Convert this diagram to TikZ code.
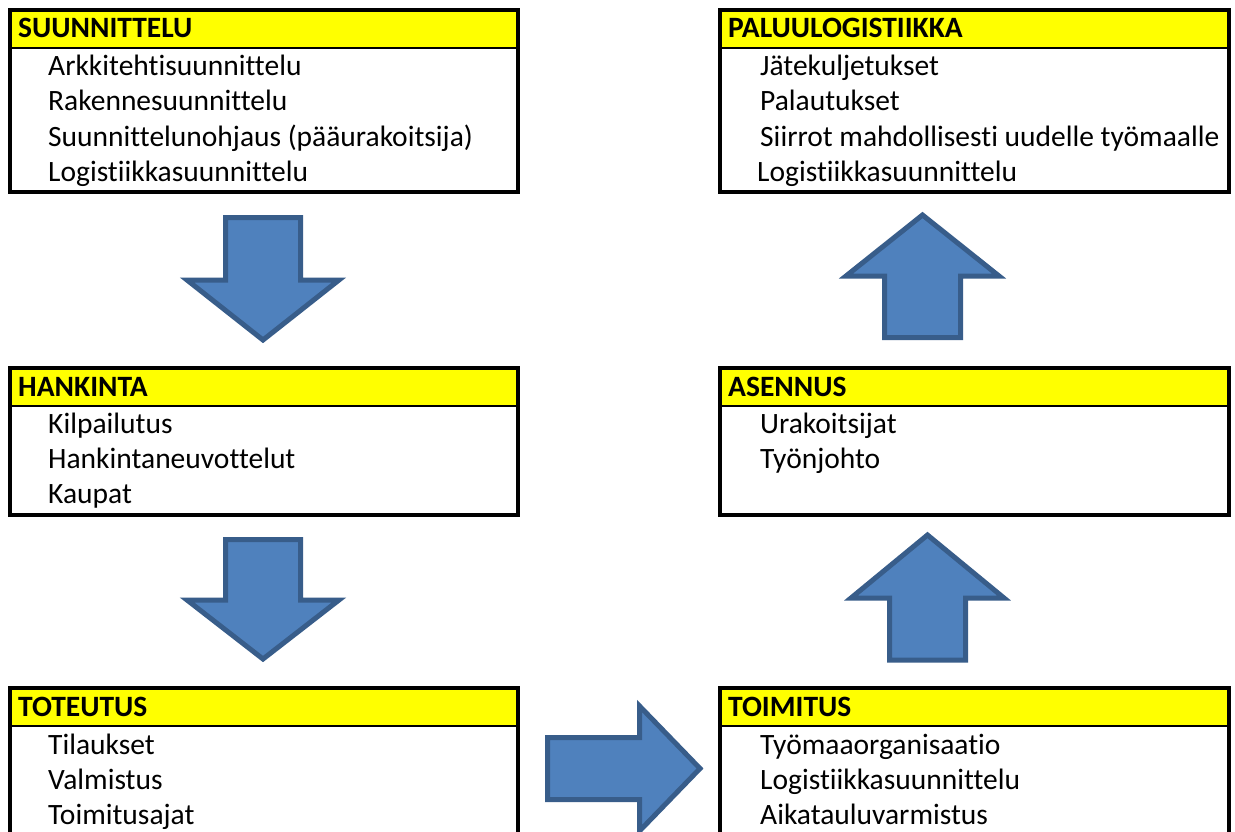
\documentclass[tikz,border=0pt]{standalone}
\usepackage{fontspec}
\setmainfont{Carlito}[Ligatures={NoCommon,NoContextual,NoRequired}]
\definecolor{arrowfill}{HTML}{4F81BD}
\definecolor{arrowline}{HTML}{385D8A}
\definecolor{headfill}{HTML}{FFFF00}
\tikzset{
  frame/.style={draw=black, line width=4pt, outer sep=0pt, inner sep=0pt},
  sepline/.style={draw=black, line width=2.5pt},
  headtext/.style={anchor=base west, inner sep=0pt, font=\fontsize{29.5}{35}\selectfont\bfseries},
  itemtext/.style={anchor=base west, inner sep=0pt, font=\fontsize{29.5}{35}\selectfont},
  blockarrow/.style={fill=arrowfill, draw=arrowline, line width=5pt, line join=miter},
}
\newcommand\stagebox[6]{%
  \fill[headfill] (#2,#3) rectangle ++(#4,38);
  \draw[sepline] (#2,#3+38) -- ++(#4,0);
  \node[frame, anchor=north west, minimum width=#4pt, minimum height=#5pt] (#1) at (#2,#3) {};
  \node[headtext] (#1-title) at (#2+8,#3+28) {#6};
}
\begin{document}
\begin{tikzpicture}[x=1pt,y=-1pt]
\useasboundingbox (0,0) rectangle (1235,832);
\clip (0,0) rectangle (1235,832);
\fill[white] (0,0) rectangle (1235,832);

% left column
\stagebox{suun}{10}{10}{508}{182}{SUUNNITTELU}
\node[itemtext] (suun-1) at (48,76) {Arkkitehtisuunnittelu};
\node[itemtext] (suun-2) at (48,111) {Rakennesuunnittelu};
\node[itemtext] (suun-3) at (48,146.5) {Suunnittelunohjaus (pääurakoitsija)};
\node[itemtext] (suun-4) at (48,182) {Logistiikkasuunnittelu};

\stagebox{hank}{10}{368}{508}{147}{HANKINTA}
\node[itemtext] (hank-1) at (48,433) {Kilpailutus};
\node[itemtext] (hank-2) at (48,468) {Hankintaneuvottelut};
\node[itemtext] (hank-3) at (48,503) {Kaupat};

\stagebox{tote}{10}{688}{508}{170}{TOTEUTUS}
\node[itemtext] (tote-1) at (48,754) {Tilaukset};
\node[itemtext] (tote-2) at (48,789) {Valmistus};
\node[itemtext] (tote-3) at (48,824) {Toimitusajat};

% right column
\stagebox{palu}{720}{10}{509}{182}{PALUULOGISTIIKKA}
\node[itemtext] (palu-1) at (760,76) {Jätekuljetukset};
\node[itemtext] (palu-2) at (760,111) {Palautukset};
\node[itemtext] (palu-3) at (760,146.5) {Siirrot mahdollisesti uudelle työmaalle};
\node[itemtext] (palu-4) at (757,182) {Logistiikkasuunnittelu};

\stagebox{asen}{720}{368}{509}{147}{ASENNUS}
\node[itemtext] (asen-1) at (760,433) {Urakoitsijat};
\node[itemtext] (asen-2) at (760,468) {Työnjohto};

\stagebox{toim}{720}{688}{509}{170}{TOIMITUS}
\node[itemtext] (toim-1) at (760,754) {Työmaaorganisaatio};
\node[itemtext] (toim-2) at (760,789) {Logistiikkasuunnittelu};
\node[itemtext] (toim-3) at (760,824) {Aikatauluvarmistus};

% block arrows
\draw[blockarrow] (225.5,217.5) -- (300.5,217.5) -- (300.5,280) -- (339,280)
  -- (263,340) -- (187,280) -- (225.5,280) -- cycle;
\draw[blockarrow] (225.5,539.5) -- (300.5,539.5) -- (300.5,600) -- (339,600)
  -- (263,659) -- (187,600) -- (225.5,600) -- cycle;
\draw[blockarrow] (884.5,337.5) -- (960.5,337.5) -- (960.5,276) -- (999,276)
  -- (922.5,215) -- (846,276) -- (884.5,276) -- cycle;
\draw[blockarrow] (889.5,660) -- (965.5,660) -- (965.5,598) -- (1004,598)
  -- (927.5,535) -- (851,598) -- (889.5,598) -- cycle;
\draw[blockarrow] (547.5,737.5) -- (639.5,737.5) -- (639.5,706) -- (700,768.5)
  -- (639.5,831) -- (639.5,799.5) -- (547.5,799.5) -- cycle;
\end{tikzpicture}
\end{document}
